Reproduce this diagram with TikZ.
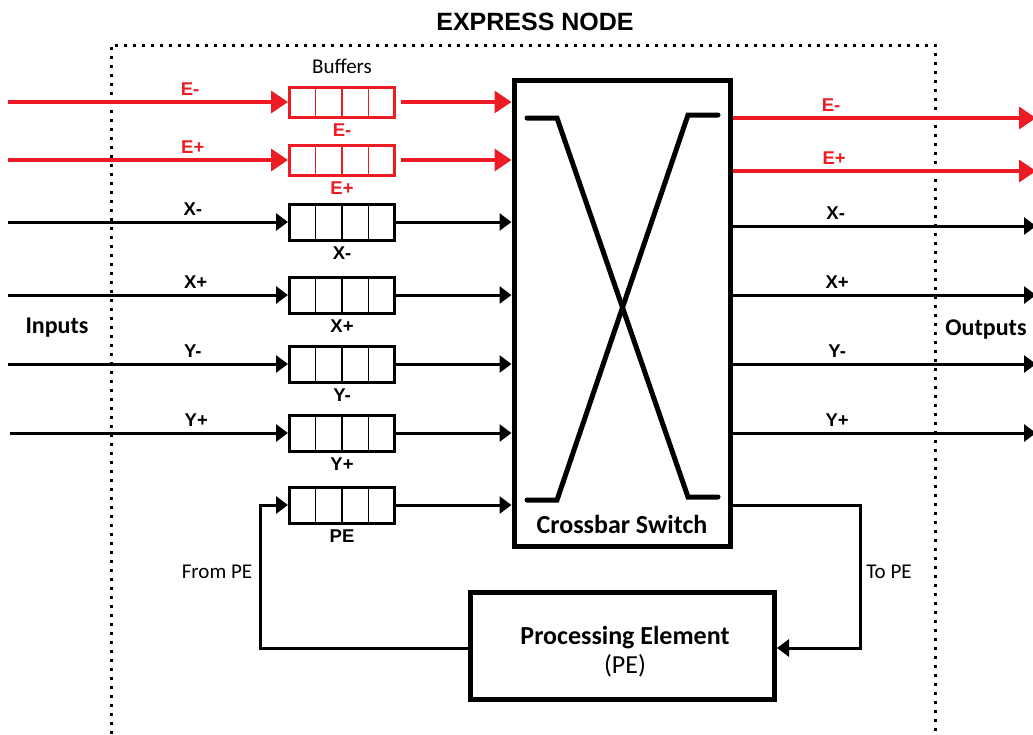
\documentclass[tikz,border=0pt]{standalone}
\usepackage{fontspec}
\setmainfont{Carlito}
\newfontfamily\arialfont{Liberation Sans}
\usetikzlibrary{arrows.meta}
\definecolor{netred}{RGB}{237,28,36}
\begin{document}
\begin{tikzpicture}[x=1pt,y=-1pt,
  lbl/.style={font=\arialfont\bfseries\fontsize{18.5}{18.5}\selectfont, inner sep=1pt},
  bufbox/.style={draw=#1, line width=3pt, minimum width=105pt, inner sep=0pt,
    path picture={\foreach \k in {1,2,3}{
      \draw[#1, line width=1.3pt]
        ([xshift=\k*26.25pt]path picture bounding box.north west) --
        ([xshift=\k*26.25pt]path picture bounding box.south west);}}},
  redbuf/.style={bufbox=netred, minimum height=30pt},
  blkbuf/.style={bufbox=black, minimum height=36pt},
  redarr/.style={draw=netred, line width=3.5pt, -{Triangle[length=17pt,width=22pt]}},
  blkarr/.style={draw=black, line width=3pt, -{Triangle[length=12pt,width=17pt]}},
  thickbox/.style={draw, line width=5pt, inner sep=0pt},
  xbar/.style={line width=5pt, line cap=round, line join=miter},
  frame/.style={line width=3pt, dash pattern=on 3pt off 6pt},
  bigbold/.style={font=\bfseries\fontsize{24}{24}\selectfont},
  plain/.style={font=\fontsize{21}{21}\selectfont}
]
\useasboundingbox (0,0) rectangle (1033,734);

% express node frame
\draw[frame] (111,734) -- (111,45) -- (935,45) -- (935,734);
\node[font=\arialfont\bfseries\fontsize{25}{25}\selectfont] (title) at (535,22) {EXPRESS NODE};

% buffers
\node[plain] (buflbl) at (342,66) {Buffers};
\node[redbuf, label={[lbl, text=netred, label distance=4pt]below:E-}] (bEm) at (342,102) {};
\node[redbuf, label={[lbl, text=netred, label distance=4pt]below:E+}] (bEp) at (342,160) {};
\node[blkbuf, label={[lbl, label distance=4pt]below:X-}] (bXm) at (342,222) {};
\node[blkbuf, label={[lbl, label distance=4pt]below:X+}] (bXp) at (342,295) {};
\node[blkbuf, label={[lbl, label distance=4pt]below:Y-}] (bYm) at (342,364) {};
\node[blkbuf, label={[lbl, label distance=4pt]below:Y+}] (bYp) at (342,433) {};
\node[blkbuf, label={[lbl, label distance=4pt]below:PE}] (bPE) at (342,505) {};

% crossbar
\node[thickbox, minimum width=216pt, minimum height=466pt] (cb) at (622,313) {};
\draw[xbar] (527,118) -- (557,118) -- (688,497) -- (718,497);
\draw[xbar] (718,115) -- (688,115) -- (557,500) -- (527,500);
\node[font=\bfseries\fontsize{26}{26}\selectfont] (cblbl) at (622,524) {Crossbar Switch};

% processing element
\node[thickbox, minimum width=304pt, minimum height=107pt] (pe) at (622.5,646) {};
\node[align=center, font=\fontsize{26}{29}\selectfont] (petxt) at (625,652) {\textbf{Processing Element}\\(PE)};

% side labels
\node[bigbold] (inlbl) at (57,328) {Inputs};
\node[bigbold] (outlbl) at (986,330) {Outputs};

% input connectors
\coordinate (iEm) at (8,102);
\coordinate (iEp) at (8,160);
\coordinate (iXm) at (8,222);
\coordinate (iXp) at (8,295);
\coordinate (iYm) at (8,364);
\coordinate (iYp) at (10,433);
\draw[redarr] (iEm) -- node[lbl, text=netred, above=4pt, pos=0.65] {E-} (bEm.west);
\draw[redarr] (iEp) -- node[lbl, text=netred, above=4pt, pos=0.66] {E+} (bEp.west);
\draw[blkarr] (iXm) -- node[lbl, above=4pt, pos=0.66] {X-} (bXm.west);
\draw[blkarr] (iXp) -- node[lbl, above=4pt, pos=0.67] {X+} (bXp.west);
\draw[blkarr] (iYm) -- node[lbl, above=4pt, pos=0.66] {Y-} (bYm.west);
\draw[blkarr] (iYp) -- node[lbl, above=4pt, pos=0.67] {Y+} (bYp.west);

% buffer to crossbar
\draw[redarr] ([xshift=5pt]bEm.east) -- (bEm.east -| cb.west);
\draw[redarr] ([xshift=5pt]bEp.east) -- (bEp.east -| cb.west);
\draw[blkarr] (bXm.east) -- (bXm.east -| cb.west);
\draw[blkarr] (bXp.east) -- (bXp.east -| cb.west);
\draw[blkarr] (bYm.east) -- (bYm.east -| cb.west);
\draw[blkarr] (bYp.east) -- (bYp.east -| cb.west);
\draw[blkarr] (bPE.east) -- (bPE.east -| cb.west);

% output connectors
\coordinate (oEm) at (1036,118);
\coordinate (oEp) at (1036,171);
\coordinate (oXm) at (1036,226);
\coordinate (oXp) at (1036,295);
\coordinate (oYm) at (1036,364);
\coordinate (oYp) at (1036,433);
\draw[redarr] (cb.east |- oEm) -- node[lbl, text=netred, above=4pt, pos=0.325] {E-} (oEm);
\draw[redarr] (cb.east |- oEp) -- node[lbl, text=netred, above=4pt, pos=0.335] {E+} (oEp);
\draw[blkarr] (cb.east |- oXm) -- node[lbl, above=4pt, pos=0.34] {X-} (oXm);
\draw[blkarr] (cb.east |- oXp) -- node[lbl, above=4pt, pos=0.345] {X+} (oXp);
\draw[blkarr] (cb.east |- oYm) -- node[lbl, above=4pt, pos=0.345] {Y-} (oYm);
\draw[blkarr] (cb.east |- oYp) -- node[lbl, above=4pt, pos=0.345] {Y+} (oYp);

% PE loop
\draw[blkarr] ([yshift=-2pt]pe.west) -- ++(-208,0) |- (bPE.west);
\draw[blkarr] (cb.east |- bPE) -- ++(128,0) |- ([yshift=-2pt]pe.east);
\node[plain] (fromlbl) at (217,572) {From PE};
\node[plain] (tolbl) at (889,572) {To PE};
\end{tikzpicture}
\end{document}
